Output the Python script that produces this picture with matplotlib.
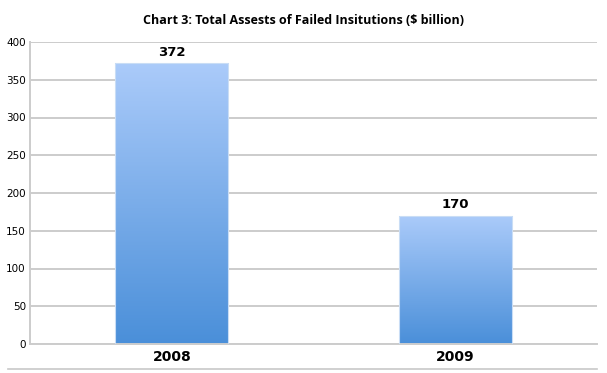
import numpy as np
import matplotlib.pyplot as plt
from matplotlib.colors import LinearSegmentedColormap
from matplotlib.lines import Line2D

years = ['2008', '2009']
assets = [372, 170]
y_ticks = [0, 50, 100, 150, 200, 250, 300, 350, 400]

fig = plt.figure(figsize=(6.07, 3.73), dpi=100)
ax = fig.add_axes([30 / 607, 1 - 344 / 373, 567 / 607, 302 / 373])

grad = LinearSegmentedColormap.from_list('bar', ['#4a8fd9', '#abcbfa'])
width = 0.4
for i, v in enumerate(assets):
    bars = ax.bar(i, v, width=width, color='none', edgecolor='#c9ddf5', linewidth=0.8, zorder=3)
    g = np.linspace(0, 1, 256).reshape(-1, 1)
    im = ax.imshow(g, cmap=grad, aspect='auto', origin='lower',
                   extent=[i - width / 2, i + width / 2, 0, v], zorder=2)
    im.set_clip_path(bars[0])
    ax.text(i, v + 6, str(v), ha='center', va='bottom', fontsize=9.5,
            fontweight='semibold', family='DejaVu Sans')

ax.set_xlim(-0.5, 1.5)
ax.set_ylim(0, 400)
ax.set_yticks(y_ticks)
ax.set_yticklabels([str(t) for t in y_ticks], fontsize=7.5)
ax.set_xticks(range(len(years)))
ax.set_xticklabels(years, fontsize=10, fontweight='bold')
ax.tick_params(axis='x', length=0, pad=4)
ax.tick_params(axis='y', length=0, pad=3)
ax.yaxis.grid(True, color='#cccccc', linewidth=1.4, zorder=0)
ax.set_axisbelow(True)
for s in ['top', 'right']:
    ax.spines[s].set_visible(False)
ax.spines['left'].set_color('#cccccc')
ax.spines['bottom'].set_color('#cccccc')
ax.spines['left'].set_linewidth(1.4)
ax.spines['bottom'].set_linewidth(1.4)

fig.text(0.5, 1 - 20 / 373, 'Chart 3: Total Assests of Failed Insitutions ($ billion)',
         ha='center', va='center', fontsize=9, fontweight='bold', family='Open Sans')
fig.add_artist(Line2D([8 / 607, 597 / 607], [1 - 369 / 373] * 2, color='#c8c8c8', linewidth=1.2))

fig.savefig('out.png', dpi=100)
